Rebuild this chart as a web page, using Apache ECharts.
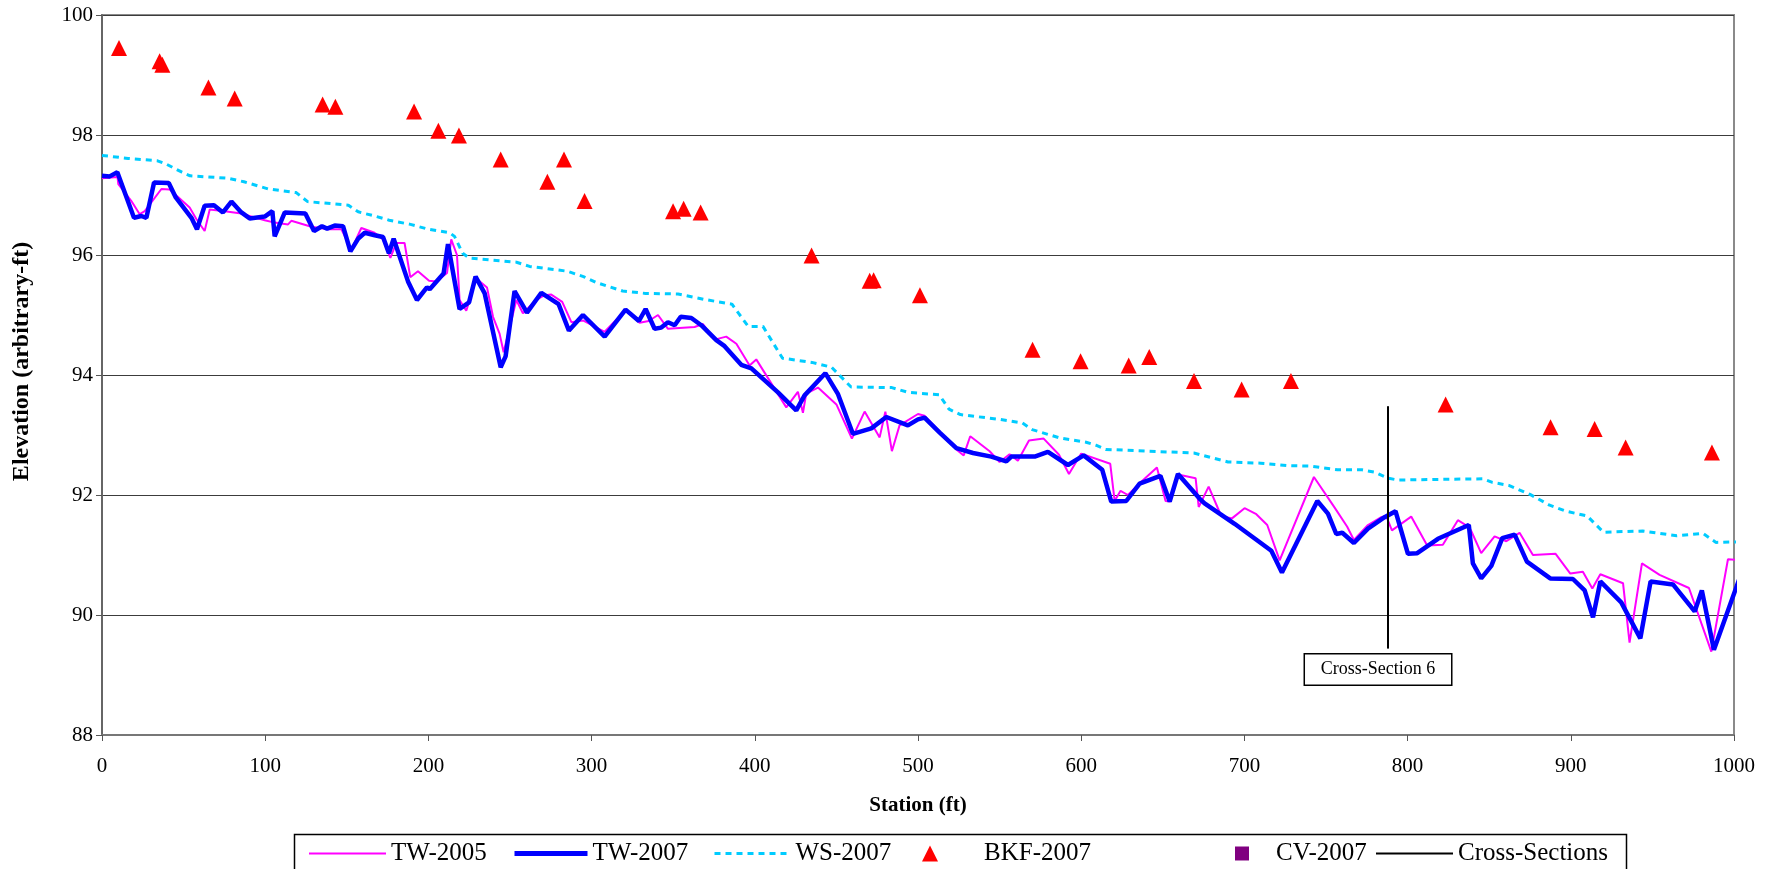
<!DOCTYPE html>
<html>
<head>
<meta charset="utf-8">
<script src="https://cdn.jsdelivr.net/npm/echarts@6/dist/echarts.min.js"></script>
<style>
html,body{margin:0;padding:0;background:#fff;}
#chart{width:1774px;height:869px;}
</style>
</head>
<body>
<div id="chart"></div>
<script>
// ---- Data (station ft, elevation ft) ----
const tw2005 = [[0,97.28],[9.5,97.3],[10,97.18],[18,96.9],[23.1,96.68],[26.2,96.73],[36.4,97.1],[41.5,97.09],[53.7,96.79],[57.8,96.6],[62.9,96.4],[66,96.76],[75.2,96.73],[85.4,96.69],[99.7,96.58],[105.8,96.54],[114,96.51],[116,96.57],[128.3,96.47],[138.5,96.43],[146.7,96.43],[152.8,96.09],[158.9,96.45],[167,96.37],[172.2,96.26],[176.7,95.95],[180.3,96.2],[185.4,96.2],[188.9,95.63],[193.6,95.73],[200.4,95.57],[204.8,95.56],[211.4,95.7],[214,96.26],[217.5,96.0],[219.1,95.25],[223.2,95.07],[229.4,95.61],[235.9,95.46],[239.6,94.97],[243.6,94.69],[246.1,94.38],[253.9,95.25],[257.9,95.03],[266.1,95.25],[271.2,95.33],[275.3,95.34],[282,95.22],[287.6,94.88],[294.7,94.91],[308,94.72],[320.8,95.08],[329.4,94.87],[335,94.9],[340.7,95.0],[346.8,94.77],[363.1,94.8],[368.2,94.85],[375.4,94.59],[382.5,94.64],[388.7,94.52],[396.8,94.16],[400.9,94.26],[419.3,93.46],[426.4,93.72],[429.5,93.37],[431.5,93.69],[438.7,93.79],[450,93.51],[459.5,92.94],[467.3,93.39],[476.5,92.96],[480,93.39],[484,92.73],[488.7,93.16],[500,93.35],[504,93.32],[523.5,92.76],[528,92.66],[532,92.98],[543.9,92.73],[550,92.55],[556.1,92.68],[561.2,92.57],[568,92.91],[577,92.94],[586.4,92.67],[592.5,92.35],[600,92.69],[617.8,92.52],[620.5,91.9],[624.1,92.07],[628.6,92.0],[636.8,92.22],[646.4,92.46],[651.7,91.9],[654.6,91.89],[659.3,92.34],[670.1,92.28],[672,91.8],[678.1,92.14],[685.8,91.65],[692.4,91.61],[700.1,91.78],[707.3,91.68],[714,91.5],[721.6,90.91],[742.6,92.3],[755.3,91.79],[763,91.47],[767.1,91.25],[775.7,91.5],[783.9,91.63],[786.9,91.65],[790.4,91.41],[802.2,91.64],[812,91.16],[821.6,91.17],[830.8,91.58],[837.4,91.47],[839,91.4],[845.1,91.03],[853.3,91.31],[860.5,91.23],[868.6,91.37],[876.8,91.0],[890.7,91.02],[899.7,90.69],[907.4,90.72],[913.2,90.44],[918.1,90.68],[932,90.53],[936,89.54],[943.6,90.86],[954.4,90.67],[972.4,90.45],[986.1,89.39],[996.3,90.93],[1001.4,90.92],[1003.5,90.78]];

const tw2007 = [[0,97.32],[4.7,97.31],[9.4,97.38],[19.6,96.62],[24.1,96.65],[27.2,96.62],[31.9,97.21],[40.9,97.2],[45.2,96.96],[54.8,96.62],[58.2,96.43],[62.9,96.82],[68.6,96.83],[74.1,96.71],[79.3,96.89],[85.4,96.71],[90.5,96.61],[99.7,96.64],[104.4,96.73],[105.8,96.31],[112,96.71],[124.6,96.69],[129.9,96.4],[134.8,96.48],[137.9,96.44],[142.6,96.49],[147.7,96.48],[152.2,96.06],[156.9,96.27],[161,96.37],[167.1,96.33],[172.2,96.3],[175.8,96.03],[178.7,96.27],[187.5,95.56],[193,95.25],[199.1,95.46],[200.8,95.43],[209.3,95.69],[212,96.18],[219.1,95.1],[224.9,95.21],[228.9,95.64],[234.5,95.36],[244.3,94.13],[247.3,94.31],[252.8,95.4],[260.4,95.04],[269.2,95.37],[279.8,95.18],[286.1,94.74],[294.7,95.0],[308,94.64],[320.8,95.09],[329,94.9],[333.1,95.1],[338.6,94.77],[342.7,94.79],[346.8,94.88],[350.9,94.83],[354.6,94.97],[361.1,94.95],[367.2,94.83],[376.4,94.58],[381.5,94.48],[391.7,94.17],[397.9,94.11],[414.2,93.71],[425.4,93.41],[430.5,93.66],[443.2,94.03],[451,93.68],[460.1,93.02],[471.4,93.11],[480.6,93.3],[493.8,93.16],[500,93.26],[504,93.29],[513.3,93.04],[523.5,92.78],[533.7,92.7],[544.9,92.64],[554.1,92.56],[557.2,92.64],[571.5,92.64],[579.6,92.72],[591.9,92.5],[601.5,92.66],[612.9,92.42],[618.4,91.89],[627.6,91.9],[635.8,92.19],[648.5,92.32],[654.2,91.89],[659.3,92.35],[672.5,91.94],[675.6,91.86],[694,91.52],[716.5,91.07],[723,90.71],[744.7,91.9],[751.2,91.69],[756.3,91.35],[760,91.37],[767.1,91.2],[775.7,91.44],[785.9,91.63],[792.6,91.73],[800.2,91.02],[805.9,91.03],[818.6,91.27],[837.5,91.5],[840,90.86],[845.1,90.61],[851.3,90.82],[858,91.28],[865.6,91.34],[873.1,90.89],[887.4,90.61],[901.3,90.6],[908.5,90.41],[913.6,89.96],[918.1,90.56],[930.9,90.21],[942.6,89.61],[948.9,90.56],[962.6,90.51],[975.9,90.06],[980.3,90.41],[987.7,89.42],[1003.5,90.62]];

const ws2007 = [[0,97.66],[16,97.61],[34,97.57],[39,97.52],[49,97.38],[54,97.32],[77,97.28],[87,97.22],[102,97.1],[119,97.04],[126,96.89],[151,96.83],[157,96.72],[167,96.65],[176,96.58],[189,96.51],[200,96.43],[213,96.37],[216,96.31],[221,96.03],[225,95.95],[254,95.88],[262,95.81],[285,95.73],[295,95.64],[303,95.54],[319,95.4],[333,95.36],[353,95.35],[369,95.26],[386,95.18],[390,95.03],[396,94.81],[405,94.81],[414,94.41],[417,94.28],[435,94.21],[447,94.13],[451,94.02],[459,93.8],[484,93.79],[494,93.71],[513,93.67],[519,93.43],[526,93.34],[550,93.26],[564,93.2],[570,93.09],[587,92.95],[603,92.88],[609,92.83],[615,92.76],[669,92.7],[690,92.55],[710,92.53],[727,92.49],[741,92.48],[757,92.42],[772,92.42],[780,92.38],[788,92.28],[794,92.25],[846,92.27],[852,92.21],[862,92.16],[875,92.01],[887,91.83],[897,91.73],[910,91.65],[920,91.38],[944,91.4],[965,91.32],[981,91.36],[989,91.21],[1003.5,91.22]];

const bkf2007 = [[10.4,99.45],[35.3,99.23],[37,99.17],[65.2,98.79],[81.3,98.61],[135.2,98.51],[143,98.47],[191.2,98.39],[206.1,98.07],[218.7,97.99],[244.3,97.59],[272.9,97.22],[283.1,97.59],[295.7,96.9],[349.9,96.73],[356.4,96.77],[366.8,96.71],[434.8,95.99],[470.4,95.57],[472.8,95.58],[501.2,95.33],[570.2,94.42],[599.6,94.23],[629.1,94.16],[641.7,94.3],[669.1,93.9],[698.3,93.76],[728.5,93.9],[823.3,93.51],[887.6,93.13],[914.6,93.1],[933.6,92.79],[986.5,92.71]];

const cv2007 = [];

const crossSection = [[788,93.48],[788,89.44]];
const crossSectionLabel = 'Cross-Section 6';

const xTicks = {min: 0, max: 1000, interval: 100};
const yTicks = {min: 88, max: 100, interval: 2};

// ---- Chart ----
const FONT = "'Liberation Serif', 'Times New Roman', serif";
const chart = echarts.init(document.getElementById('chart'), null, {renderer: 'canvas'});

function lineLegend(name, left, w, lineW) {
  return {
    data: [name], left: left, top: 841, padding: 0, orient: 'horizontal',
    itemWidth: w, itemHeight: 14, selectedMode: false,
    itemStyle: {opacity: 0},
    lineStyle: {width: lineW},
    textStyle: {fontFamily: FONT, fontSize: 25, color: '#000'}
  };
}
function markerLegend(name, left, size, padLeft) {
  return {
    data: [name], left: left, top: 841, padding: 0, orient: 'horizontal',
    itemWidth: size, itemHeight: size, selectedMode: false,
    textStyle: {fontFamily: FONT, fontSize: 25, color: '#000', padding: [0, 0, 0, padLeft]}
  };
}

chart.setOption({
  backgroundColor: '#fff',
  animation: false,
  grid: {left: 102, right: 40, top: 15, bottom: 134, show: true, borderColor: '#8a8a8a', borderWidth: 2, backgroundColor: 'transparent'},
  xAxis: {
    type: 'value', min: xTicks.min, max: xTicks.max, interval: xTicks.interval,
    name: 'Station (ft)', nameLocation: 'middle', nameGap: 60,
    nameTextStyle: {fontFamily: FONT, fontWeight: 'bold', fontSize: 21, color: '#000'},
    axisLine: {show: true, onZero: false, lineStyle: {color: '#777', width: 2}},
    axisTick: {show: true, inside: false, length: 6, lineStyle: {color: '#555', width: 1}},
    axisLabel: {fontFamily: FONT, fontSize: 21, color: '#000', margin: 21, formatter: v => String(v)},
    splitLine: {show: false}
  },
  yAxis: {
    type: 'value', min: yTicks.min, max: yTicks.max, interval: yTicks.interval,
    name: 'Elevation (arbitrary-ft)', nameLocation: 'middle', nameGap: 68, nameRotate: 90,
    nameTextStyle: {fontFamily: FONT, fontWeight: 'bold', fontSize: 24, color: '#000', padding: [0, 0, 0, 27]},
    axisLine: {show: true, lineStyle: {color: '#666', width: 2}},
    axisTick: {show: true, inside: false, length: 6, lineStyle: {color: '#555', width: 1}},
    axisLabel: {fontFamily: FONT, fontSize: 21, color: '#000', margin: 9},
    splitLine: {show: true, lineStyle: {color: '#3c3c3c', width: 1}}
  },
  legend: [
    lineLegend('TW-2005', 308, 77, 2),
    lineLegend('TW-2007', 512, 73, 5),
    lineLegend('WS-2007', 713, 76, 3),
    markerLegend('BKF-2007', 922, 16, 41),
    markerLegend('CV-2007', 1235, 14, 22),
    lineLegend('Cross-Sections', 1375, 77, 2)
  ],
  graphic: [{
    type: 'rect', left: 292, top: 832, z: 0, silent: true,
    shape: {width: 1332, height: 45},
    style: {fill: 'none', stroke: '#000', lineWidth: 1.5}
  }],
  series: [
    {name: 'TW-2005', type: 'line', data: tw2005, symbol: 'none', clip: false, z: 2,
     lineStyle: {color: '#FF00FF', width: 2}, itemStyle: {color: '#FF00FF'}},
    {name: 'TW-2007', type: 'line', data: tw2007, symbol: 'none', clip: false, z: 3,
     lineStyle: {color: '#0000FF', width: 4.5}, itemStyle: {color: '#0000FF'}},
    {name: 'WS-2007', type: 'line', data: ws2007, symbol: 'none', clip: false, z: 4,
     lineStyle: {color: '#00CCFF', width: 3, type: [6, 5]}, itemStyle: {color: '#00CCFF'}},
    {name: 'BKF-2007', type: 'scatter', data: bkf2007, symbol: 'triangle', symbolSize: 16, z: 5,
     itemStyle: {color: '#FF0000', opacity: 1}},
    {name: 'CV-2007', type: 'scatter', data: cv2007, symbol: 'rect', symbolSize: 14, z: 5,
     itemStyle: {color: '#800080', opacity: 1}},
    {name: 'Cross-Sections', type: 'line', data: crossSection, symbol: 'none', z: 6,
     lineStyle: {color: '#000', width: 2}, itemStyle: {color: '#000'},
     markPoint: {
       silent: true, animation: false,
       data: [{
         coord: crossSection[1], symbol: 'rect', symbolSize: [1, 1], symbolOffset: [-10, 21],
         itemStyle: {color: 'rgba(0,0,0,0)'},
         label: {show: true, position: 'inside', formatter: crossSectionLabel,
                 fontFamily: FONT, fontSize: 18, color: '#000',
                 backgroundColor: '#fff', borderColor: '#000', borderWidth: 1.5,
                 width: 146, height: 30, lineHeight: 30, align: 'center', verticalAlign: 'middle', padding: 0}
       }]
     }}
  ]
});
</script>
</body>
</html>
